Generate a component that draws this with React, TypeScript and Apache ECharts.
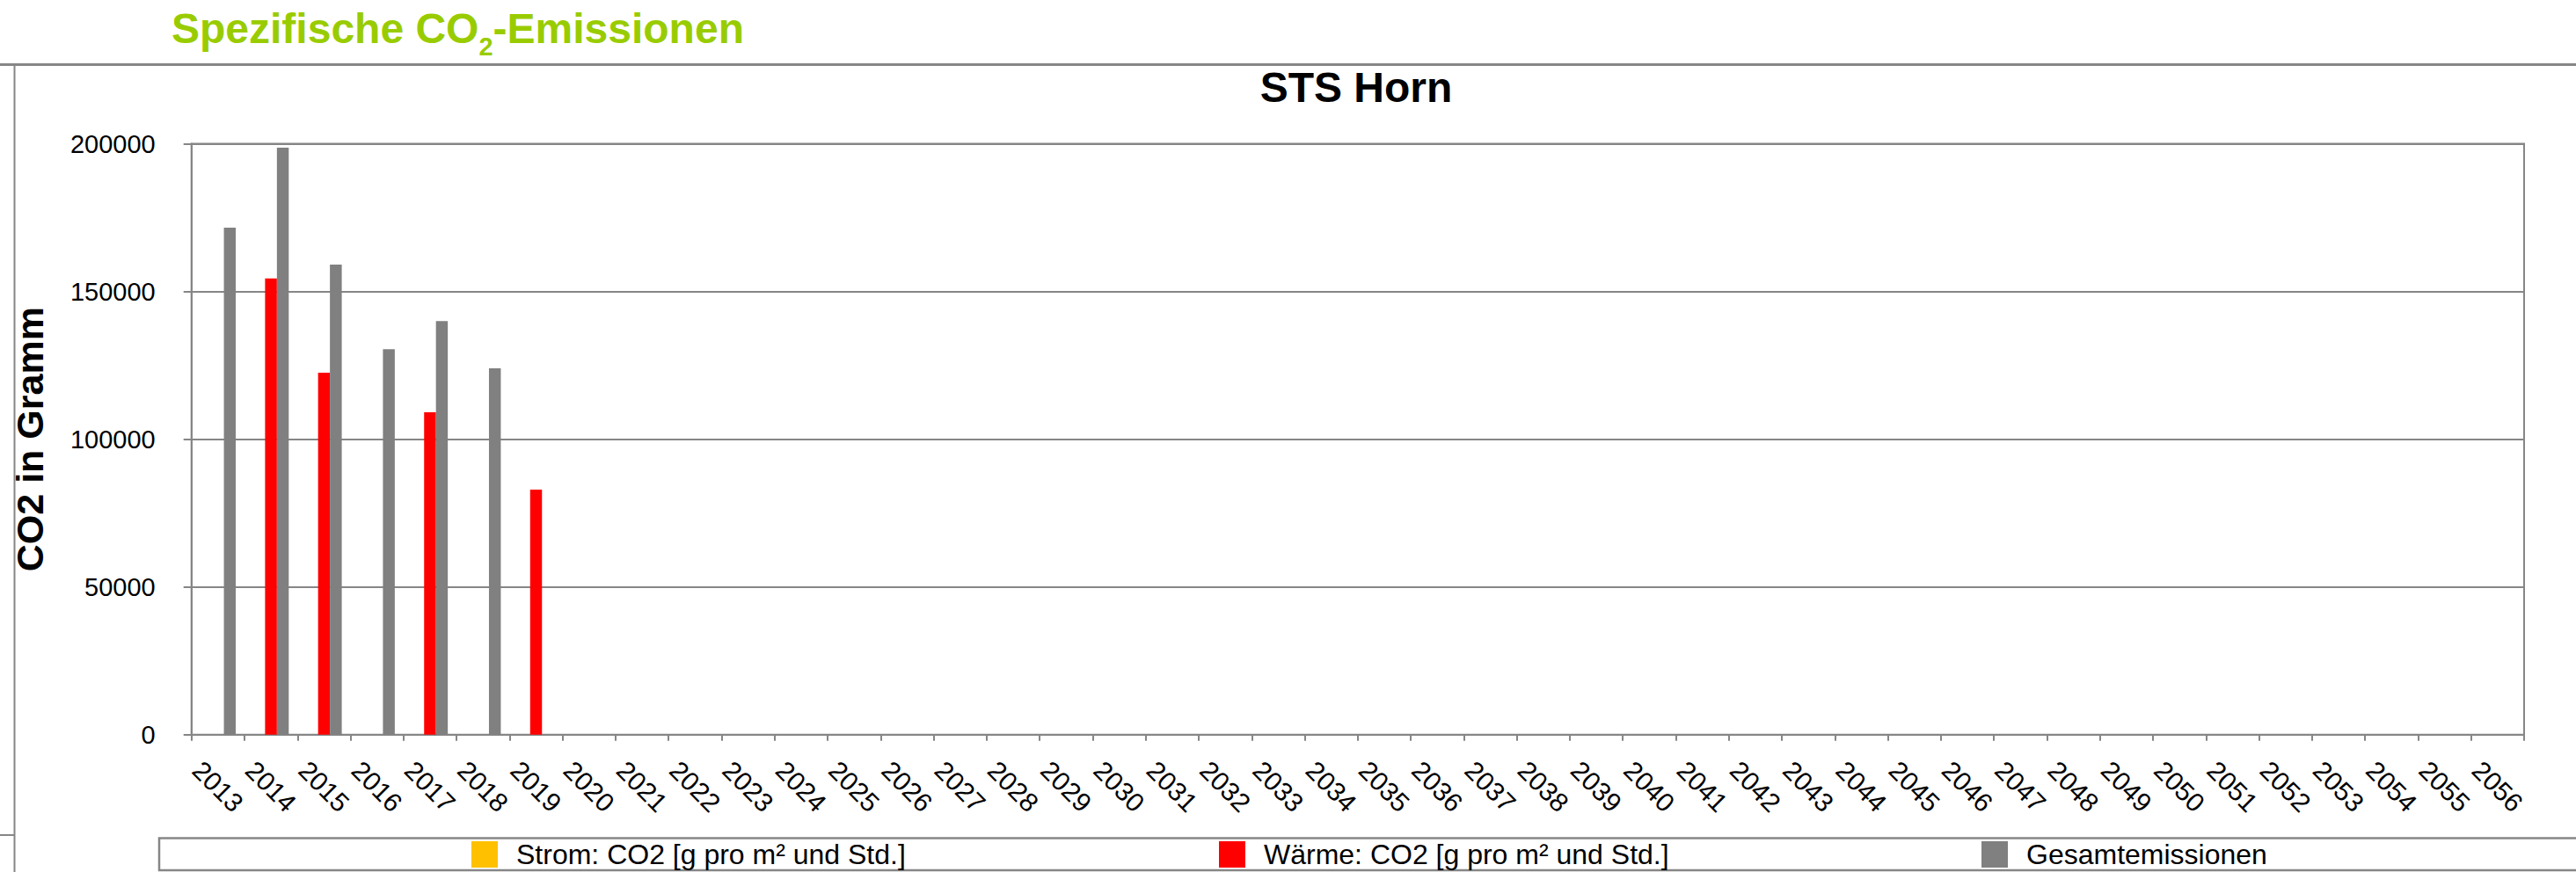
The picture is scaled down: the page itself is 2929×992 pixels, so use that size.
import React, { useEffect, useRef } from 'react';
import * as echarts from 'echarts';

const years: string[] = [
  '2013', '2014', '2015', '2016', '2017', '2018', '2019', '2020', '2021', '2022', '2023',
  '2024', '2025', '2026', '2027', '2028', '2029', '2030', '2031', '2032', '2033', '2034',
  '2035', '2036', '2037', '2038', '2039', '2040', '2041', '2042', '2043', '2044', '2045',
  '2046', '2047', '2048', '2049', '2050', '2051', '2052', '2053', '2054', '2055', '2056',
];

const stromValues: (number | null)[] = [];
const waermeValues: (number | null)[] = [null, 154400, 122500, null, 109100, null, 82900];
const gesamtValues: (number | null)[] = [171600, 198700, 159100, 130500, 140000, 124000, null];

const seriesNames = [
  'Strom: CO2 [g pro m² und Std.]',
  'Wärme: CO2 [g pro m² und Std.]',
  'Gesamtemissionen',
];
const seriesColors = ['#FFC000', '#FF0000', '#808080'];
const seriesData = [stromValues, waermeValues, gesamtValues];

const yMin = 0;
const yMax = 200000;
const yStep = 50000;

const chartTitle = 'STS Horn';
const yAxisName = 'CO2 in Gramm';

const FONT = '"Liberation Sans", Arial, Helvetica, sans-serif';
const GRAY = '#868686';

export default function App() {
  const ref = useRef<HTMLDivElement>(null);

  useEffect(() => {
    if (!ref.current) return;
    const chart = echarts.init(ref.current, undefined, { renderer: 'svg' });
    const legendLefts = [536, 1386, 2253];
    const option: any = {
      animation: false,
      backgroundColor: '#ffffff',
      textStyle: { fontFamily: FONT },
      grid: {
        left: 217.7,
        right: 59,
        top: 163.6,
        bottom: 156.3,
        show: true,
        borderColor: GRAY,
        borderWidth: 2,
        containLabel: false,
        outerBoundsMode: 'none',
      },
      xAxis: {
        type: 'category',
        data: years,
        axisLine: { show: true, lineStyle: { color: GRAY, width: 2 } },
        axisTick: { show: true, length: 7, lineStyle: { color: GRAY, width: 2 } },
        axisLabel: {
          interval: 0,
          rotate: -45,
          align: 'center',
          verticalAlign: 'middle',
          margin: 59,
          fontSize: 30,
          color: '#000',
          fontFamily: FONT,
        },
        splitLine: { show: false },
      },
      yAxis: {
        type: 'value',
        min: yMin,
        max: yMax,
        interval: yStep,
        name: yAxisName,
        nameLocation: 'middle',
        nameGap: 162,
        nameTextStyle: { fontSize: 43, fontWeight: 'bold', color: '#000', fontFamily: FONT },
        axisLine: { show: true, lineStyle: { color: GRAY, width: 2 } },
        axisTick: { show: true, length: 9, lineStyle: { color: GRAY, width: 2 } },
        axisLabel: {
          fontSize: 29,
          color: '#000',
          margin: 41,
          fontFamily: FONT,
          formatter: (v: number) => String(v),
        },
        splitLine: { show: true, lineStyle: { color: GRAY, width: 2 } },
      },
      legend: seriesNames.map((n, i) => ({
        data: [n],
        left: legendLefts[i],
        top: 956,
        orient: 'horizontal',
        padding: 0,
        itemGap: 0,
        itemWidth: 30,
        itemHeight: 30,
        icon: 'rect',
        selectedMode: false,
        textStyle: { fontSize: 32, color: '#000', fontFamily: FONT, padding: [0, 0, 0, 16] },
      })),
      series: seriesNames.map((n, i) => ({
        name: n,
        type: 'bar',
        data: seriesData[i],
        itemStyle: { color: seriesColors[i] },
        barGap: '0%',
        barCategoryGap: '33%',
      })),
      graphic: [
        {
          type: 'line',
          shape: { x1: 0, y1: 73.5, x2: 2929, y2: 73.5 },
          style: { stroke: GRAY, lineWidth: 3 },
        },
        {
          type: 'line',
          shape: { x1: 16.5, y1: 73, x2: 16.5, y2: 992 },
          style: { stroke: GRAY, lineWidth: 2 },
        },
        {
          type: 'line',
          shape: { x1: 0, y1: 950, x2: 16, y2: 950 },
          style: { stroke: GRAY, lineWidth: 2 },
        },
        {
          type: 'rect',
          shape: { x: 181, y: 953.5, width: 2800, height: 36.5 },
          style: { fill: 'none', stroke: GRAY, lineWidth: 2.5 },
        },
        {
          type: 'text',
          x: 195,
          y: 32,
          style: {
            text: '{a|Spezifische CO}{b|2}{a|-Emissionen}',
            align: 'left',
            verticalAlign: 'middle',
            rich: {
              a: { fontSize: 48, fontWeight: 'bold', fill: '#99CC00', fontFamily: FONT },
              b: { fontSize: 29, fontWeight: 'bold', fill: '#99CC00', fontFamily: FONT, padding: [42, 0, 0, 0] },
            },
          },
        },
        {
          type: 'text',
          x: 1542,
          y: 99.5,
          style: {
            text: chartTitle,
            align: 'center',
            verticalAlign: 'middle',
            fontSize: 48,
            fontWeight: 'bold',
            fill: '#000',
            fontFamily: FONT,
          },
        },
      ],
    };
    chart.setOption(option);
    return () => chart.dispose();
  }, []);

  return (
    <div
      ref={ref}
      style={{ position: 'absolute', left: 0, top: 0, width: 2929, height: 992, background: '#fff' }}
    />
  );
}
